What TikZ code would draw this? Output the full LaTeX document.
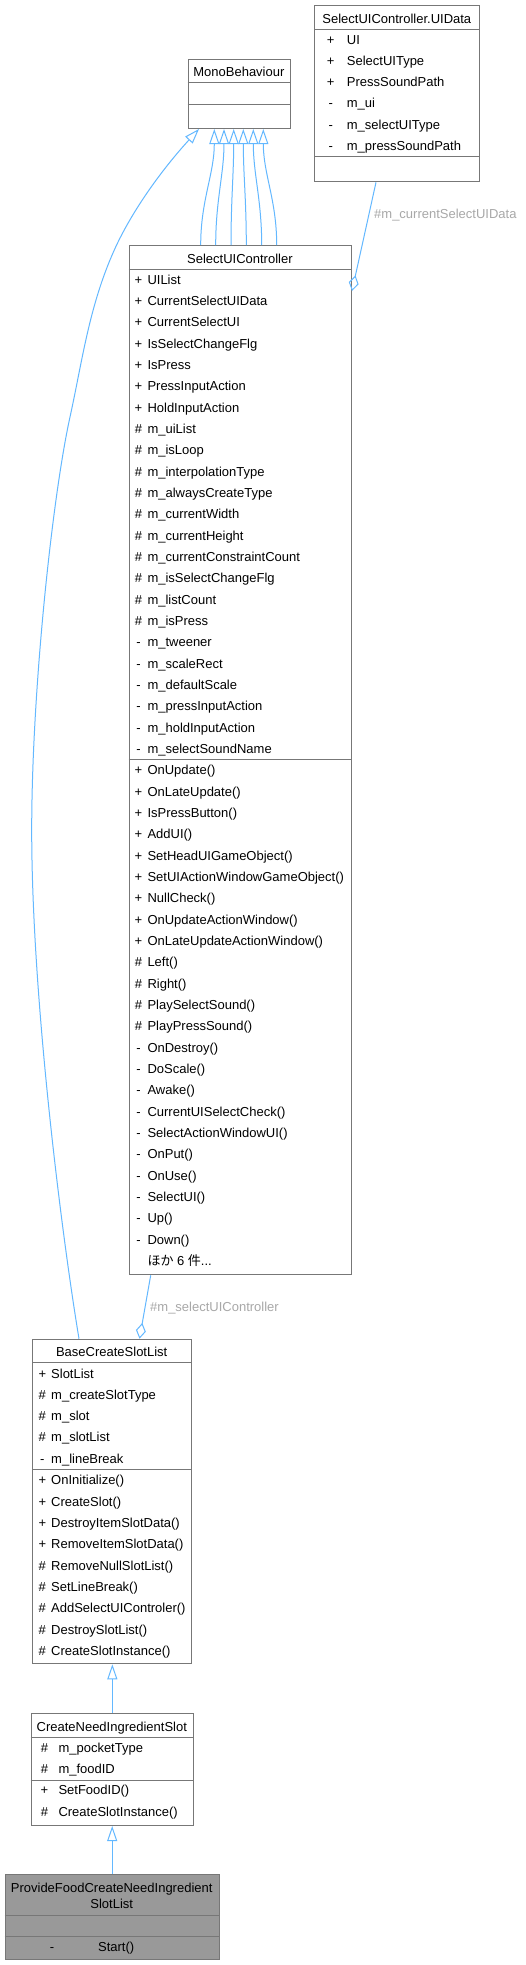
\documentclass[tikz,border=0pt]{standalone}
\usepackage{fontspec}
\setmainfont{Liberation Sans}
\newfontfamily\jpfont{Noto Sans CJK JP}
\usetikzlibrary{arrows.meta}
\definecolor{edgeblue}{HTML}{63B8FF}
\definecolor{boxgray}{HTML}{777777}
\definecolor{labgray}{HTML}{A8A8A8}
\definecolor{targetgray}{HTML}{999999}
\tikzset{
  cls/.style={draw=boxgray, line width=1pt, fill=white, inner sep=0pt, anchor=north west},
  sepline/.style={draw=boxgray, line width=1pt},
  txt/.style={font=\fontsize{13pt}{15.6pt}\selectfont, inner sep=0pt, anchor=base west, text=black},
  sgn/.style={font=\fontsize{13pt}{15.6pt}\selectfont, inner sep=0pt, anchor=base, text=black},
  ttl/.style={font=\fontsize{13pt}{15.6pt}\selectfont, inner sep=0pt, anchor=base, text=black},
  lab/.style={font=\fontsize{13pt}{15.6pt}\selectfont, inner sep=0pt, anchor=base west, text=labgray},
  inh/.style={draw=edgeblue, line width=1pt, -{Triangle[open, length=15pt, width=10pt]}},
  agg/.style={draw=edgeblue, line width=1pt, -{Diamond[open, length=16pt, width=10pt]}},
}
\begin{document}
\begin{tikzpicture}[x=1pt,y=-1pt]
\useasboundingbox (0,0) rectangle (525,1965);
\fill[white] (0,0) rectangle (525,1965);

% ---------- MonoBehaviour ----------
\node[cls, minimum width=102.3pt, minimum height=69.3pt] (mono) at (187.7,58.7) {};
\draw[sepline] ([yshift=-24pt]mono.north west) -- ([yshift=-24pt]mono.north east);
\draw[sepline] ([yshift=-45.3pt]mono.north west) -- ([yshift=-45.3pt]mono.north east);
\node[ttl] (mono-t) at (238.9,76) {MonoBehaviour};

% ---------- SelectUIController.UIData ----------
\node[cls, minimum width=165pt, minimum height=176.3pt] (uid) at (314.3,5) {};
\draw[sepline] ([yshift=-24.3pt]uid.north west) -- ([yshift=-24.3pt]uid.north east);
\draw[sepline] ([yshift=-151.7pt]uid.north west) -- ([yshift=-151.7pt]uid.north east);
\node[ttl] (uid-t) at (396.8,23) {SelectUIController.UIData};
\foreach \s/\n [count=\i from 0] in {+/UI, +/SelectUIType, +/PressSoundPath, -/m\_ui, -/m\_selectUIType, -/m\_pressSoundPath}{
  \node[sgn] (uid-s\i) at (330.7,39.3+\i*21.33+4.7) {\s};
  \node[txt] (uid-a\i) at (346.7,39.3+\i*21.33+4.7) {\n};
}

% ---------- SelectUIController ----------
\node[cls, minimum width=222.3pt, minimum height=1029.3pt] (sc) at (128.7,245) {};
\draw[sepline] ([yshift=-24.3pt]sc.north west) -- ([yshift=-24.3pt]sc.north east);
\draw[sepline] ([yshift=-514.3pt]sc.north west) -- ([yshift=-514.3pt]sc.north east);
\node[ttl] (sc-t) at (239.9,263) {SelectUIController};
\foreach \s/\n [count=\i from 0] in {+/UIList, +/CurrentSelectUIData, +/CurrentSelectUI, +/IsSelectChangeFlg, +/IsPress, +/PressInputAction, +/HoldInputAction, \#/m\_uiList, \#/m\_isLoop, \#/m\_interpolationType, \#/m\_alwaysCreateType, \#/m\_currentWidth, \#/m\_currentHeight, \#/m\_currentConstraintCount, \#/m\_isSelectChangeFlg, \#/m\_listCount, \#/m\_isPress, -/m\_tweener, -/m\_scaleRect, -/m\_defaultScale, -/m\_pressInputAction, -/m\_holdInputAction, -/m\_selectSoundName}{
  \node[sgn] (sc-s\i) at (138.5,279.3+\i*21.333+4.7) {\s};
  \node[txt] (sc-a\i) at (147.3,279.3+\i*21.333+4.7) {\n};
}
\foreach \s/\n [count=\i from 0] in {+/OnUpdate(), +/OnLateUpdate(), +/IsPressButton(), +/AddUI(), +/SetHeadUIGameObject(), +/SetUIActionWindowGameObject(), +/NullCheck(), +/OnUpdateActionWindow(), +/OnLateUpdateActionWindow(), \#/Left(), \#/Right(), \#/PlaySelectSound(), \#/PlayPressSound(), -/OnDestroy(), -/DoScale(), -/Awake(), -/CurrentUISelectCheck(), -/SelectActionWindowUI(), -/OnPut(), -/OnUse(), -/SelectUI(), -/Up(), -/Down()}{
  \node[sgn] (sc-ms\i) at (138.5,770+\i*21.333+4.7) {\s};
  \node[txt] (sc-m\i) at (147.3,770+\i*21.333+4.7) {\n};
}
\node[txt] (sc-more) at (147.3,770+23*21.333+4.7) {{\jpfont ほか} 6 {\jpfont 件}...};

% ---------- BaseCreateSlotList ----------
\node[cls, minimum width=158.7pt, minimum height=324.6pt] (bs) at (32.3,1338.7) {};
\draw[sepline] ([yshift=-23.6pt]bs.north west) -- ([yshift=-23.6pt]bs.north east);
\draw[sepline] ([yshift=-130.3pt]bs.north west) -- ([yshift=-130.3pt]bs.north east);
\node[ttl] (bs-t) at (111.7,1356.4) {BaseCreateSlotList};
\foreach \s/\n [count=\i from 0] in {+/SlotList, \#/m\_createSlotType, \#/m\_slot, \#/m\_slotList, -/m\_lineBreak}{
  \node[sgn] (bs-s\i) at (42.3,1373.3+\i*21.25+4.7) {\s};
  \node[txt] (bs-a\i) at (51,1373.3+\i*21.25+4.7) {\n};
}
\foreach \s/\n [count=\i from 0] in {+/OnInitialize(), +/CreateSlot(), +/DestroyItemSlotData(), +/RemoveItemSlotData(), \#/RemoveNullSlotList(), \#/SetLineBreak(), \#/AddSelectUIControler(), \#/DestroySlotList(), \#/CreateSlotInstance()}{
  \node[sgn] (bs-ms\i) at (42.3,1480+\i*21.33+4.7) {\s};
  \node[txt] (bs-m\i) at (51,1480+\i*21.33+4.7) {\n};
}

% ---------- CreateNeedIngredientSlot ----------
\node[cls, minimum width=162.3pt, minimum height=112pt] (cn) at (30.7,1713) {};
\draw[sepline] ([yshift=-24.3pt]cn.north west) -- ([yshift=-24.3pt]cn.north east);
\draw[sepline] ([yshift=-67pt]cn.north west) -- ([yshift=-67pt]cn.north east);
\node[ttl] (cn-t) at (111.8,1731.4) {CreateNeedIngredientSlot};
\foreach \s/\n [count=\i from 0] in {\#/m\_pocketType, \#/m\_foodID}{
  \node[sgn] (cn-s\i) at (44.5,1747.7+\i*21.3+4.7) {\s};
  \node[txt] (cn-a\i) at (58.3,1747.7+\i*21.3+4.7) {\n};
}
\foreach \s/\n [count=\i from 0] in {+/SetFoodID(), \#/CreateSlotInstance()}{
  \node[sgn] (cn-ms\i) at (44.5,1790+\i*21.3+4.7) {\s};
  \node[txt] (cn-m\i) at (58.3,1790+\i*21.3+4.7) {\n};
}

% ---------- ProvideFoodCreateNeedIngredientSlotList ----------
\node[cls, fill=targetgray, minimum width=214pt, minimum height=85pt] (pf) at (4.7,1874.3) {};
\draw[sepline] ([yshift=-40.7pt]pf.north west) -- ([yshift=-40.7pt]pf.north east);
\draw[sepline] ([yshift=-61.7pt]pf.north west) -- ([yshift=-61.7pt]pf.north east);
\node[ttl] (pf-t1) at (111.7,1892.4) {ProvideFoodCreateNeedIngredient};
\node[ttl] (pf-t2) at (111.7,1908) {SlotList};
\node[sgn] (pf-ms0) at (52,1951.4) {-};
\node[ttl] (pf-m0) at (116.2,1951.4) {Start()};

% ---------- connectors ----------
% six inheritance edges SelectUIController -> MonoBehaviour
\foreach \a/\b [count=\k] in {72/26.6, 87/36.3, 102.3/46, 117.6/55.6, 133/65.6, 148/75.6}{
  \coordinate (e\k s) at ([xshift=\a pt]sc.north west);
  \coordinate (e\k t) at ([xshift=\b pt]mono.south west);
  \draw[inh] (e\k s) .. controls ([yshift=45pt]e\k s) and ([yshift=-45pt]e\k t) .. (e\k t);
}
% long inheritance edge BaseCreateSlotList -> MonoBehaviour
\coordinate (ls) at ([xshift=46.7pt]bs.north west);
\coordinate (lt) at ([xshift=11.3pt]mono.south west);
\draw[inh] (ls) .. controls (62.5,1240) and (31.7,1000) .. (31.7,830)
  .. controls (31.7,690) and (52.4,497) .. (70,417)
  .. controls (82.3,361) and (89.1,306) .. (114.3,250)
  .. controls (132.3,210) and (163,168.3) .. (lt);

% aggregation UIData -> SelectUIController
\draw[agg] ([xshift=61.7pt]uid.south west) -- ([yshift=-46pt]sc.north east);
\node[lab] (lab1) at (374,218) {\#m\_currentSelectUIData};

% aggregation SelectUIController -> BaseCreateSlotList
\draw[agg] ([xshift=22pt]sc.south west) -- ([xshift=107.2pt]bs.north west);
\node[lab] (lab2) at (150,1311.4) {\#m\_selectUIController};

% inheritance chain
\draw[inh] (cn.north) -- (cn.north |- bs.south);
\draw[inh] (pf.north) -- (pf.north |- cn.south);
\end{tikzpicture}
\end{document}
